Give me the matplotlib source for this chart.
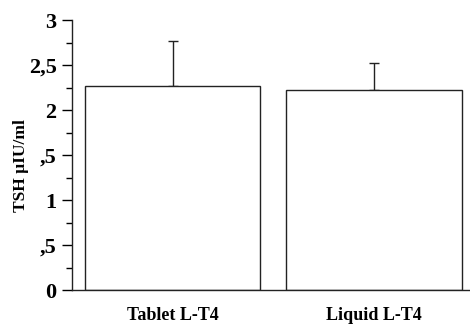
import matplotlib
matplotlib.use("Agg")
import matplotlib.pyplot as plt
from matplotlib.ticker import FixedLocator, MultipleLocator

categories = ["Tablet L-T4", "Liquid L-T4"]
tsh_mean = [2.27, 2.225]
tsh_sd = [0.50, 0.295]
ytick_values = [0, 0.5, 1, 1.5, 2, 2.5, 3]
ytick_labels = ["0", ",5", "1", ",5", "2", "2,5", "3"]

plt.rcParams["font.family"] = ["Liberation Serif", "DejaVu Serif"]
plt.rcParams["font.weight"] = "bold"

fig = plt.figure(figsize=(4.70, 3.25), dpi=100)
W, H = 470, 325
ax = fig.add_axes([72 / W, (H - 290) / H, (470 - 72) / W + 0.01, 270 / H])

x = range(len(categories))
ax.bar(x, tsh_mean, width=0.871, color="white", edgecolor="#222222",
       linewidth=1.0, zorder=2)
ax.errorbar(x, tsh_mean, yerr=[[0, 0], tsh_sd], fmt="none", ecolor="#222222",
            elinewidth=1.0, capsize=3.5, capthick=1.0, zorder=1)

ax.set_xlim(-0.5, 1.5)
ax.set_ylim(0, 3)
ax.yaxis.set_major_locator(FixedLocator(ytick_values))
ax.set_yticklabels(ytick_labels, fontsize=16, fontweight="bold")
ax.yaxis.set_minor_locator(MultipleLocator(0.25))
ax.tick_params(axis="y", which="major", length=7, width=1, direction="out",
               pad=4, colors="black")
ax.tick_params(axis="y", which="minor", length=4, width=1, direction="out")
ax.set_xticks(list(x))
ax.set_xticklabels(categories, fontsize=13, fontweight="bold")
ax.tick_params(axis="x", length=0, pad=12)

for side in ("top", "right"):
    ax.spines[side].set_visible(False)
for side in ("left", "bottom"):
    ax.spines[side].set_linewidth(1.0)
    ax.spines[side].set_color("#222222")

ax.set_ylabel("TSH µIU/ml", fontsize=12.5, fontweight="bold")
ax.yaxis.set_label_coords(-0.108, 0.46)

fig.savefig("out.png", dpi=100)
